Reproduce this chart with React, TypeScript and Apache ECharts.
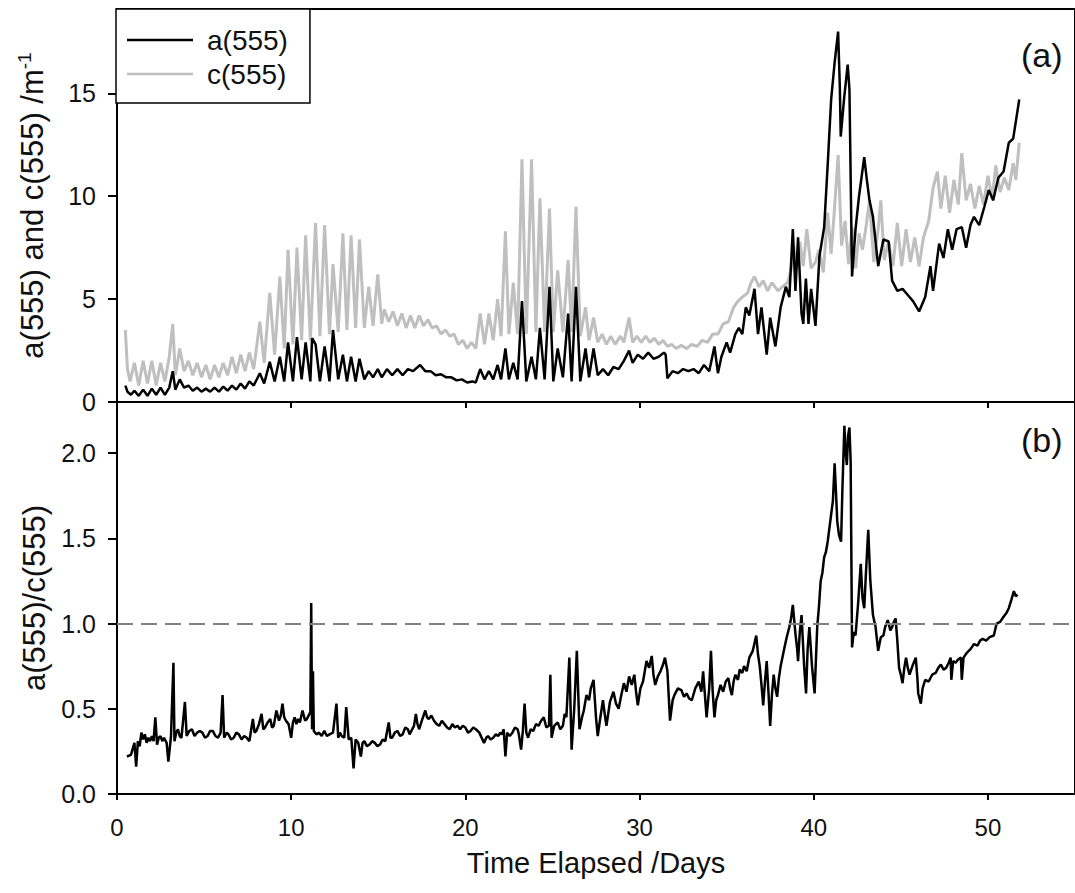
import React, { useEffect, useRef } from "react";
import * as echarts from "echarts";

// Tick positions
const xTicks = [0, 10, 20, 30, 40, 50];
const yTicksTop = [0, 5, 10, 15];
const yTicksBottom = [0, 0.5, 1.0, 1.5, 2.0];

// c(555) beam attenuation, [day, m^-1]
const cSeries: [number, number][] = [
  [0.48, 3.5], [0.6, 1.6], [0.75, 1.0], [1.0, 1.9], [1.25, 0.8], [1.5, 2.0], [1.75, 0.9], [2.0, 2.0],
  [2.25, 0.8], [2.5, 1.9], [2.75, 1.0], [3.0, 2.2], [3.2, 3.8], [3.35, 1.3], [3.6, 2.6], [3.85, 1.5],
  [4.1, 2.0], [4.35, 1.3], [4.6, 1.9], [4.85, 1.2], [5.1, 1.8], [5.35, 1.1], [5.6, 1.8], [5.85, 1.2],
  [6.1, 1.9], [6.35, 1.3], [6.6, 2.2], [6.85, 1.4], [7.1, 2.3], [7.35, 1.5], [7.6, 2.4], [7.85, 1.6],
  [8.2, 3.9], [8.45, 1.9], [8.77, 5.3], [9.05, 2.3], [9.35, 6.1], [9.6, 2.6], [9.82, 7.4], [10.1, 2.8],
  [10.33, 7.5], [10.6, 3.0], [10.83, 8.1], [11.1, 3.0], [11.4, 8.7], [11.65, 3.2], [11.92, 8.6], [12.2, 3.3],
  [12.4, 6.7], [12.7, 3.4], [12.97, 8.2], [13.2, 3.5], [13.44, 8.1], [13.7, 3.6], [13.92, 7.9], [14.2, 3.6],
  [14.45, 5.6], [14.7, 3.7], [14.97, 6.2], [15.2, 3.8], [15.35, 4.5], [15.6, 3.9], [15.85, 4.4], [16.1, 3.7],
  [16.35, 4.3], [16.6, 3.6], [16.85, 4.2], [17.1, 3.6], [17.35, 4.2], [17.6, 3.7], [17.85, 4.0], [18.1, 3.6],
  [18.35, 3.7], [18.6, 3.3], [18.85, 3.5], [19.1, 3.2], [19.35, 3.3], [19.6, 2.8], [19.85, 3.0], [20.1, 2.6],
  [20.35, 2.9], [20.6, 2.6], [20.85, 4.3], [21.1, 2.8], [21.35, 4.3], [21.6, 3.0], [21.85, 5.0], [22.05, 3.2],
  [22.3, 8.3], [22.5, 3.3], [22.75, 5.8], [23.0, 3.3], [23.25, 11.8], [23.5, 3.3], [23.8, 11.8], [24.05, 3.4],
  [24.28, 9.9], [24.55, 3.4], [24.83, 9.4], [25.05, 3.4], [25.3, 6.4], [25.6, 3.4], [25.9, 6.9], [26.1, 3.4],
  [26.35, 9.5], [26.6, 3.2], [26.9, 4.6], [27.1, 3.0], [27.36, 4.1], [27.6, 2.9], [27.85, 3.3], [28.1, 2.8],
  [28.35, 3.2], [28.6, 2.8], [28.9, 3.2], [29.1, 2.9], [29.4, 4.1], [29.6, 2.9], [29.85, 3.2], [30.1, 2.9],
  [30.35, 3.2], [30.6, 2.9], [30.85, 3.1], [31.1, 2.8], [31.35, 3.0], [31.6, 2.7], [31.85, 2.8], [32.1, 2.6],
  [32.4, 2.75], [32.7, 2.6], [33.0, 2.8], [33.3, 2.7], [33.6, 3.0], [33.9, 2.9], [34.2, 3.3], [34.5, 3.3],
  [34.8, 3.8], [35.1, 3.9], [35.4, 4.6], [35.65, 4.9], [35.9, 5.1], [36.2, 5.3], [36.4, 5.8], [36.6, 6.1],
  [36.85, 5.6], [37.1, 5.9], [37.35, 5.4], [37.6, 5.8], [37.95, 5.4], [38.2, 5.6], [38.5, 5.8], [38.7, 6.4],
  [38.85, 7.6], [39.0, 6.5], [39.2, 7.8], [39.4, 6.6], [39.6, 8.4], [39.85, 6.5], [40.1, 6.8], [40.3, 7.4],
  [40.55, 6.3], [40.8, 9.2], [41.0, 7.2], [41.2, 9.5], [41.4, 12.0], [41.6, 7.6], [41.8, 8.8], [42.0, 6.7],
  [42.2, 8.5], [42.4, 6.5], [42.6, 8.2], [42.8, 7.4], [43.0, 8.5], [43.2, 9.8], [43.45, 6.8], [43.7, 8.4],
  [43.85, 9.8], [44.05, 6.9], [44.3, 7.8], [44.55, 6.6], [44.8, 8.7], [45.05, 6.6], [45.3, 8.4], [45.55, 6.8],
  [45.8, 8.0], [46.05, 6.6], [46.3, 8.0], [46.6, 8.8], [46.85, 10.4], [47.1, 11.2], [47.3, 9.4], [47.55, 11.0],
  [47.8, 9.2], [48.05, 10.8], [48.3, 9.6], [48.5, 12.1], [48.75, 9.8], [49.0, 10.6], [49.25, 9.4], [49.5, 10.5],
  [49.75, 9.6], [50.0, 11.0], [50.25, 9.9], [50.45, 11.5], [50.7, 10.2], [50.95, 10.9], [51.2, 10.3], [51.45, 11.6],
  [51.6, 10.8], [51.8, 12.6],
];

// a(555) absorption, [day, m^-1]
const aSeries: [number, number][] = [
  [0.48, 0.8], [0.6, 0.5], [0.8, 0.35], [1.0, 0.55], [1.25, 0.3], [1.5, 0.6], [1.75, 0.3], [2.0, 0.65],
  [2.25, 0.35], [2.5, 0.7], [2.75, 0.35], [3.0, 0.7], [3.2, 1.5], [3.35, 0.6], [3.6, 1.1], [3.85, 0.7],
  [4.1, 0.8], [4.35, 0.55], [4.6, 0.7], [4.85, 0.5], [5.1, 0.65], [5.35, 0.5], [5.6, 0.7], [5.85, 0.5],
  [6.1, 0.75], [6.35, 0.55], [6.6, 0.8], [6.85, 0.6], [7.1, 0.9], [7.35, 0.65], [7.6, 1.0], [7.85, 0.8],
  [8.2, 1.4], [8.45, 0.9], [8.77, 1.95], [9.05, 1.0], [9.35, 2.2], [9.6, 1.0], [9.82, 2.9], [10.1, 1.0],
  [10.33, 3.15], [10.6, 1.1], [10.83, 2.9], [11.1, 1.0], [11.2, 3.1], [11.4, 2.8], [11.65, 1.0], [11.92, 2.7],
  [12.2, 1.0], [12.4, 3.5], [12.7, 1.1], [12.97, 2.3], [13.2, 1.0], [13.44, 2.2], [13.7, 1.0], [13.92, 2.1],
  [14.2, 1.1], [14.45, 1.5], [14.7, 1.2], [14.97, 1.6], [15.2, 1.2], [15.5, 1.6], [15.8, 1.3], [16.1, 1.6],
  [16.4, 1.3], [16.7, 1.6], [17.0, 1.5], [17.4, 1.8], [17.7, 1.5], [18.0, 1.5], [18.3, 1.3], [18.6, 1.35],
  [18.9, 1.2], [19.2, 1.2], [19.5, 1.05], [19.8, 1.1], [20.1, 0.95], [20.4, 1.0], [20.6, 0.95], [20.85, 1.6],
  [21.1, 1.1], [21.35, 1.5], [21.6, 1.1], [21.85, 1.8], [22.05, 1.1], [22.3, 2.6], [22.5, 1.1], [22.75, 1.9],
  [23.0, 1.1], [23.25, 4.9], [23.5, 1.0], [23.8, 2.2], [24.05, 1.1], [24.28, 3.6], [24.55, 1.1], [24.83, 5.6],
  [25.05, 1.0], [25.3, 2.6], [25.6, 1.2], [25.9, 4.3], [26.1, 1.0], [26.35, 5.6], [26.6, 1.0], [26.9, 2.6],
  [27.1, 1.2], [27.36, 2.6], [27.6, 1.3], [27.9, 1.6], [28.2, 1.3], [28.5, 1.7], [28.8, 1.6], [29.1, 2.0],
  [29.4, 2.5], [29.6, 1.9], [29.9, 2.3], [30.2, 2.1], [30.5, 2.4], [30.8, 2.1], [31.1, 2.2], [31.4, 2.4],
  [31.5, 2.3], [31.6, 1.15], [31.9, 1.5], [32.2, 1.4], [32.5, 1.6], [32.8, 1.5], [33.1, 1.6], [33.4, 1.4],
  [33.7, 1.8], [34.0, 1.5], [34.3, 2.7], [34.5, 1.4], [34.7, 2.2], [35.0, 2.9], [35.2, 2.4], [35.5, 3.3],
  [35.7, 3.6], [35.9, 3.3], [36.1, 4.6], [36.3, 4.2], [36.6, 5.5], [36.8, 3.3], [37.0, 4.6], [37.3, 2.3],
  [37.5, 4.1], [37.8, 2.7], [38.1, 4.6], [38.4, 5.6], [38.6, 5.1], [38.8, 8.4], [38.95, 5.4], [39.1, 8.0],
  [39.3, 4.3], [39.4, 3.8], [39.55, 6.0], [39.7, 3.8], [39.85, 5.5], [40.1, 3.7], [40.33, 7.1], [40.6, 8.5],
  [40.8, 11.5], [41.0, 14.7], [41.2, 16.5], [41.4, 18.0], [41.5, 15.3], [41.55, 12.9], [41.75, 14.8], [41.95, 16.4],
  [42.05, 15.2], [42.2, 6.1], [42.4, 8.4], [42.6, 10.0], [42.9, 11.9], [43.05, 10.8], [43.2, 9.8], [43.4, 9.0],
  [43.7, 6.6], [44.0, 7.9], [44.3, 7.8], [44.5, 5.9], [44.8, 5.4], [45.1, 5.5], [45.4, 5.2], [45.7, 4.9],
  [46.05, 4.4], [46.4, 5.1], [46.7, 6.6], [46.85, 5.4], [47.2, 7.7], [47.45, 7.0], [47.7, 8.4], [47.95, 7.4],
  [48.2, 8.4], [48.5, 8.5], [48.75, 7.5], [49.0, 8.6], [49.2, 9.0], [49.5, 8.6], [49.8, 9.5], [50.05, 10.3],
  [50.3, 9.8], [50.6, 10.9], [50.9, 11.2], [51.2, 12.6], [51.45, 12.8], [51.8, 14.7],
];

// a(555)/c(555) ratio, [day, ratio]
const ratioSeries: [number, number][] = [
  [0.57, 0.22], [0.8, 0.23], [1.0, 0.30], [1.1, 0.16], [1.2, 0.31], [1.3, 0.28], [1.4, 0.36], [1.5, 0.32],
  [1.6, 0.35], [1.7, 0.30], [1.8, 0.33], [1.9, 0.31], [2.0, 0.34], [2.1, 0.31], [2.2, 0.45], [2.3, 0.29],
  [2.4, 0.33], [2.5, 0.34], [2.6, 0.31], [2.7, 0.33], [2.85, 0.30], [2.95, 0.19], [3.1, 0.34], [3.24, 0.77],
  [3.3, 0.31], [3.4, 0.36], [3.5, 0.38], [3.6, 0.34], [3.7, 0.33], [3.9, 0.54], [4.0, 0.34], [4.15, 0.37],
  [4.3, 0.38], [4.45, 0.34], [4.6, 0.36], [4.75, 0.37], [4.9, 0.36], [5.05, 0.33], [5.2, 0.34], [5.35, 0.37],
  [5.5, 0.37], [5.65, 0.34], [5.8, 0.33], [5.95, 0.36], [6.06, 0.58], [6.15, 0.33], [6.3, 0.36], [6.4, 0.35],
  [6.55, 0.32], [6.7, 0.33], [6.85, 0.36], [7.0, 0.35], [7.15, 0.32], [7.3, 0.34], [7.45, 0.33], [7.6, 0.31],
  [7.8, 0.44], [7.9, 0.36], [8.0, 0.37], [8.15, 0.41], [8.3, 0.47], [8.4, 0.38], [8.5, 0.39], [8.65, 0.42],
  [8.8, 0.44], [8.9, 0.39], [9.0, 0.40], [9.15, 0.49], [9.3, 0.43], [9.4, 0.46], [9.5, 0.53], [9.6, 0.45],
  [9.7, 0.43], [9.85, 0.41], [10.0, 0.33], [10.1, 0.42], [10.2, 0.45], [10.3, 0.41], [10.4, 0.44], [10.5, 0.42],
  [10.65, 0.49], [10.8, 0.43], [10.9, 0.44], [11.0, 0.46], [11.1, 0.48], [11.15, 1.12], [11.2, 0.38], [11.25, 0.72],
  [11.3, 0.37], [11.45, 0.35], [11.6, 0.36], [11.75, 0.34], [11.9, 0.37], [12.05, 0.34], [12.2, 0.35], [12.4, 0.36],
  [12.6, 0.53], [12.7, 0.33], [12.8, 0.36], [12.9, 0.34], [13.05, 0.33], [13.16, 0.51], [13.3, 0.32], [13.45, 0.33],
  [13.58, 0.15], [13.7, 0.32], [13.85, 0.30], [14.0, 0.22], [14.1, 0.30], [14.2, 0.31], [14.35, 0.28], [14.5, 0.29],
  [14.65, 0.31], [14.8, 0.30], [14.95, 0.28], [15.1, 0.29], [15.25, 0.32], [15.4, 0.31], [15.6, 0.42], [15.7, 0.33],
  [15.8, 0.33], [15.95, 0.36], [16.1, 0.37], [16.25, 0.34], [16.4, 0.35], [16.55, 0.39], [16.7, 0.38], [16.8, 0.35],
  [16.9, 0.37], [17.05, 0.40], [17.16, 0.47], [17.25, 0.41], [17.35, 0.38], [17.5, 0.43], [17.7, 0.49], [17.8, 0.45],
  [17.9, 0.44], [18.05, 0.46], [18.2, 0.43], [18.35, 0.41], [18.5, 0.40], [18.65, 0.43], [18.8, 0.41], [18.95, 0.39],
  [19.1, 0.38], [19.25, 0.41], [19.4, 0.39], [19.55, 0.40], [19.7, 0.38], [19.85, 0.40], [20.0, 0.39], [20.15, 0.36],
  [20.3, 0.37], [20.45, 0.39], [20.6, 0.38], [20.8, 0.36], [21.07, 0.30], [21.2, 0.33], [21.3, 0.34], [21.45, 0.32],
  [21.6, 0.33], [21.75, 0.35], [21.9, 0.34], [22.0, 0.36], [22.1, 0.35], [22.2, 0.38], [22.3, 0.22], [22.4, 0.36],
  [22.55, 0.34], [22.7, 0.36], [22.85, 0.39], [23.0, 0.38], [23.07, 0.35], [23.2, 0.26], [23.3, 0.37], [23.4, 0.53],
  [23.5, 0.36], [23.6, 0.33], [23.75, 0.38], [23.9, 0.37], [24.05, 0.41], [24.2, 0.40], [24.35, 0.43], [24.5, 0.45],
  [24.65, 0.39], [24.8, 0.40], [24.88, 0.70], [24.95, 0.33], [25.1, 0.40], [25.3, 0.42], [25.45, 0.38], [25.6, 0.40],
  [25.7, 0.47], [25.8, 0.45], [25.97, 0.80], [26.1, 0.26], [26.25, 0.50], [26.4, 0.84], [26.55, 0.38], [26.7, 0.45],
  [26.8, 0.49], [26.95, 0.58], [27.1, 0.55], [27.2, 0.62], [27.36, 0.67], [27.5, 0.45], [27.6, 0.34], [27.75, 0.45],
  [27.9, 0.55], [28.0, 0.47], [28.1, 0.40], [28.3, 0.54], [28.5, 0.60], [28.65, 0.53], [28.8, 0.50], [28.95, 0.58],
  [29.1, 0.65], [29.25, 0.60], [29.4, 0.69], [29.55, 0.64], [29.7, 0.70], [29.8, 0.60], [29.9, 0.52], [30.05, 0.62],
  [30.2, 0.66], [30.3, 0.72], [30.4, 0.78], [30.55, 0.74], [30.7, 0.81], [30.8, 0.70], [30.9, 0.64], [31.05, 0.69],
  [31.2, 0.72], [31.35, 0.76], [31.46, 0.80], [31.6, 0.72], [31.75, 0.43], [31.9, 0.55], [32.0, 0.58], [32.2, 0.62],
  [32.4, 0.61], [32.55, 0.57], [32.7, 0.59], [32.85, 0.56], [33.0, 0.55], [33.2, 0.62], [33.4, 0.66], [33.55, 0.60],
  [33.65, 0.72], [33.85, 0.45], [34.0, 0.62], [34.1, 0.84], [34.2, 0.60], [34.3, 0.45], [34.4, 0.55], [34.5, 0.58],
  [34.65, 0.64], [34.8, 0.60], [34.95, 0.66], [35.1, 0.68], [35.2, 0.62], [35.3, 0.58], [35.4, 0.66], [35.5, 0.70],
  [35.65, 0.67], [35.75, 0.73], [35.9, 0.71], [36.0, 0.75], [36.15, 0.72], [36.3, 0.80], [36.5, 0.84], [36.7, 0.93],
  [36.8, 0.82], [36.9, 0.75], [37.0, 0.64], [37.1, 0.52], [37.2, 0.66], [37.3, 0.78], [37.4, 0.60], [37.5, 0.40],
  [37.6, 0.58], [37.7, 0.70], [37.8, 0.62], [37.9, 0.57], [38.0, 0.68], [38.1, 0.75], [38.2, 0.80], [38.3, 0.85],
  [38.45, 0.92], [38.6, 0.98], [38.7, 1.03], [38.8, 1.11], [38.95, 0.94], [39.05, 0.85], [39.1, 0.78], [39.2, 0.95],
  [39.3, 1.05], [39.45, 0.75], [39.56, 0.59], [39.65, 0.85], [39.75, 0.98], [39.9, 0.75], [40.05, 0.59], [40.15, 0.85],
  [40.2, 0.98], [40.3, 1.10], [40.4, 1.25], [40.5, 1.30], [40.6, 1.39], [40.7, 1.42], [40.8, 1.48], [40.95, 1.60],
  [41.1, 1.72], [41.2, 1.94], [41.3, 1.72], [41.35, 1.60], [41.45, 1.52], [41.57, 1.48], [41.65, 1.80], [41.76, 2.16],
  [41.82, 2.02], [41.9, 1.93], [41.97, 2.10], [42.05, 2.15], [42.12, 1.95], [42.2, 0.86], [42.3, 0.95], [42.4, 0.93],
  [42.55, 1.12], [42.7, 1.35], [42.8, 1.15], [42.9, 1.09], [43.0, 1.30], [43.13, 1.55], [43.25, 1.25], [43.4, 1.05],
  [43.55, 0.98], [43.7, 0.84], [43.85, 0.92], [44.0, 0.93], [44.1, 0.98], [44.25, 1.02], [44.4, 0.96], [44.5, 0.98],
  [44.6, 1.01], [44.7, 1.03], [44.8, 0.90], [44.9, 0.74], [45.0, 0.70], [45.1, 0.65], [45.2, 0.74], [45.3, 0.80],
  [45.4, 0.74], [45.5, 0.70], [45.7, 0.76], [45.86, 0.80], [45.95, 0.68], [46.0, 0.59], [46.15, 0.53], [46.25, 0.62],
  [46.4, 0.67], [46.6, 0.66], [46.8, 0.70], [47.0, 0.71], [47.15, 0.74], [47.3, 0.76], [47.45, 0.73], [47.6, 0.74],
  [47.75, 0.77], [47.86, 0.80], [47.9, 0.67], [48.0, 0.78], [48.15, 0.77], [48.3, 0.79], [48.45, 0.80], [48.5, 0.67],
  [48.6, 0.80], [48.8, 0.83], [49.0, 0.85], [49.2, 0.88], [49.4, 0.87], [49.55, 0.90], [49.7, 0.91], [49.9, 0.90],
  [50.1, 0.92], [50.34, 0.93], [50.5, 1.00], [50.7, 1.01], [50.9, 1.04], [51.05, 1.06], [51.2, 1.09], [51.35, 1.14],
  [51.49, 1.19], [51.6, 1.16], [51.7, 1.17],
];

const referenceRatio = 1.0;

const FONT = 'Arial, "Liberation Sans", sans-serif';
const INK = "#111";

export default function App() {
  const ref = useRef<HTMLDivElement>(null);

  useEffect(() => {
    if (!ref.current) return;
    const chart = echarts.init(ref.current, undefined, { renderer: "svg" });

    const axisLine = { show: true, lineStyle: { color: "#000", width: 2 } };
    const tickStyle = { color: "#000", width: 2 };

    chart.setOption({
      animation: false,
      textStyle: { fontFamily: FONT },
      grid: [
        { left: 117, top: 9, width: 961, height: 393, show: true, borderColor: "#000", borderWidth: 2 },
        { left: 117, top: 402, width: 961, height: 392, show: true, borderColor: "#000", borderWidth: 2 },
      ],
      legend: {
        left: 116,
        top: 9,
        orient: "vertical",
        data: ["a(555)", "c(555)"],
        icon: "rect",
        itemWidth: 66,
        itemHeight: 2.5,
        itemGap: 6,
        padding: [17, 22, 15, 11],
        borderColor: "#000",
        borderWidth: 1.5,
        backgroundColor: "#fff",
        textStyle: { fontSize: 28, color: INK, fontFamily: FONT, padding: [0, 0, 0, 9] },
      },
      xAxis: [
        {
          gridIndex: 0,
          type: "value",
          min: 0,
          max: 55,
          axisLine,
          axisTick: { show: true, length: 6, lineStyle: tickStyle, customValues: xTicks },
          axisLabel: { show: false },
          splitLine: { show: false },
        },
        {
          gridIndex: 1,
          type: "value",
          min: 0,
          max: 55,
          axisLine,
          axisTick: { show: true, length: 6, lineStyle: tickStyle, customValues: xTicks },
          axisLabel: { fontSize: 24, color: INK, margin: 21, fontFamily: FONT, customValues: xTicks },
          splitLine: { show: false },
          name: "Time Elapsed /Days",
          nameLocation: "middle",
          nameGap: 54,
          nameTextStyle: { fontSize: 29, color: INK, fontFamily: FONT },
        },
      ],
      yAxis: [
        {
          gridIndex: 0,
          type: "value",
          min: 0,
          max: 19.1,
          axisLine,
          axisTick: { show: true, length: 9, lineStyle: tickStyle, customValues: yTicksTop },
          axisLabel: { fontSize: 25, color: INK, margin: 21, fontFamily: FONT, customValues: yTicksTop },
          splitLine: { show: false },
          name: "{n|a(555) and c(555) /m}{s|-1}",
          nameLocation: "middle",
          nameGap: 68,
          nameTextStyle: {
            color: INK,
            fontFamily: FONT,
            rich: {
              n: { fontSize: 31, lineHeight: 34, color: INK, fontFamily: FONT },
              s: { fontSize: 19, lineHeight: 34, verticalAlign: "top", color: INK, fontFamily: FONT },
            },
          },
        },
        {
          gridIndex: 1,
          type: "value",
          min: 0,
          max: 2.3,
          axisLine,
          axisTick: { show: true, length: 9, lineStyle: tickStyle, customValues: yTicksBottom },
          axisLabel: {
            fontSize: 25,
            color: INK,
            margin: 21,
            fontFamily: FONT,
            customValues: yTicksBottom,
            formatter: (v: number) => v.toFixed(1),
          },
          splitLine: { show: false },
          name: "a(555)/c(555)",
          nameLocation: "middle",
          nameGap: 62,
          nameTextStyle: { fontSize: 31, color: INK, fontFamily: FONT },
        },
      ],
      graphic: [
        { type: "text", left: 1021, top: 38, style: { text: "(a)", fontSize: 34, fill: INK, fontFamily: FONT } },
        { type: "text", left: 1021, top: 423, style: { text: "(b)", fontSize: 34, fill: INK, fontFamily: FONT } },
      ],
      series: [
        {
          name: "c(555)",
          type: "line",
          xAxisIndex: 0,
          yAxisIndex: 0,
          data: cSeries,
          symbol: "none",
          showSymbol: false,
          lineStyle: { color: "#bfbfbf", width: 3 },
          itemStyle: { color: "#bfbfbf" },
        },
        {
          name: "a(555)",
          type: "line",
          xAxisIndex: 0,
          yAxisIndex: 0,
          data: aSeries,
          symbol: "none",
          showSymbol: false,
          lineStyle: { color: "#000", width: 2.5 },
          itemStyle: { color: "#000" },
        },
        {
          name: "ratio",
          type: "line",
          xAxisIndex: 1,
          yAxisIndex: 1,
          data: ratioSeries,
          symbol: "none",
          showSymbol: false,
          lineStyle: { color: "#000", width: 2.5 },
          itemStyle: { color: "#000" },
          markLine: {
            silent: true,
            symbol: "none",
            label: { show: false },
            lineStyle: { color: "#808080", width: 2, type: [16, 8] },
            data: [{ yAxis: referenceRatio }],
          },
        },
      ],
    });

    return () => chart.dispose();
  }, []);

  return (
    <div
      ref={ref}
      style={{ position: "fixed", left: 0, top: 0, width: 1075, height: 893, background: "#fff" }}
    />
  );
}
